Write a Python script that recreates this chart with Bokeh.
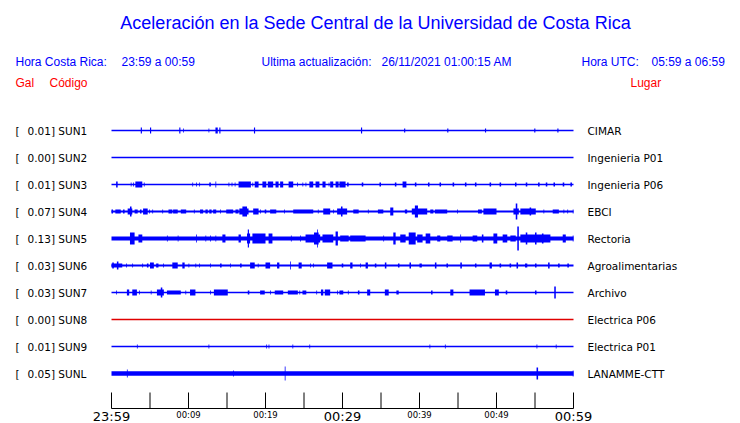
from bokeh.plotting import figure
from bokeh.models import Range1d
from bokeh.core.properties import value
from bokeh.embed import file_html
from bokeh.resources import INLINE

# ---------------- data ----------------
STATIONS = ["SUN1", "SUN2", "SUN3", "SUN4", "SUN5", "SUN6", "SUN7", "SUN8", "SUN9", "SUNL"]
PEAK_GAL = [0.01, 0.00, 0.01, 0.07, 0.13, 0.03, 0.03, 0.00, 0.01, 0.05]
PLACES = ["CIMAR", "Ingenieria P01", "Ingenieria P06", "EBCI", "Rectoria",
          "Agroalimentarias", "Archivo", "Electrica P06", "Electrica P01", "LANAMME-CTT"]

TICK_MINUTES = [0, 5, 10, 15, 20, 25, 30, 35, 40, 45, 50, 55, 60]
LABEL_MINUTES = [0, 10, 20, 30, 40, 50, 60]
TICK_LABELS = ["23:59", "00:09", "00:19", "00:29", "00:39", "00:49", "00:59"]
MAJOR_LABEL = [True, False, False, True, False, False, True]

TITLE = "Aceleración en la Sede Central de la Universidad de Costa Rica"
HEADER_LABELS = ["Hora Costa Rica:", "Ultima actualización:", "Hora UTC:"]
HEADER_VALUES = ["23:59 a 00:59", "26/11/2021 01:00:15 AM", "05:59 a 06:59"]
COLUMN_HEADS = ["Gal", "Código", "Lugar"]

# bursts per station: [start minute, end minute, half amplitude]
BURSTS_SUN1 = [[3.8, 3.95, 3], [5.0, 5.15, 3], [8.8, 8.95, 3], [9.3, 9.4, 2], [12.6, 12.7, 2],
               [13.5, 13.8, 3], [14.0, 14.15, 3], [18.5, 18.65, 3], [32.4, 32.55, 3],
               [38.0, 38.15, 2], [43.6, 43.75, 2], [48.5, 48.65, 2], [54.9, 55.05, 2],
               [57.9, 58.05, 2]]
BURSTS_SUN2 = []
BURSTS_SUN3 = [[0.6, 0.8, 3], [2.5, 2.6, 2], [2.8, 2.9, 2], [3.1, 4.0, 3], [4.2, 4.3, 2],
               [10.5, 10.6, 2], [11.0, 11.1, 2], [11.4, 11.5, 2], [12.7, 12.9, 2], [13.5, 13.6, 3],
               [15.2, 15.3, 2], [15.6, 15.7, 2], [16.0, 16.1, 2], [16.5, 18.1, 3], [18.3, 18.4, 2],
               [18.6, 19.1, 3], [19.6, 20.1, 3], [20.3, 21.0, 3], [21.3, 21.7, 3], [21.9, 22.3, 3],
               [23.0, 23.6, 3], [24.1, 24.2, 2], [24.8, 24.9, 2], [25.2, 25.3, 2], [25.7, 26.2, 3],
               [26.5, 27.0, 3], [27.4, 27.8, 3], [28.2, 28.3, 2], [28.4, 28.8, 3], [29.1, 29.5, 3],
               [29.6, 30.4, 3], [30.6, 30.8, 2], [32.5, 32.7, 2], [34.8, 35.0, 2], [36.8, 37.0, 2],
               [37.8, 38.3, 3], [39.4, 39.6, 2], [41.1, 41.3, 2], [42.6, 42.8, 2], [44.3, 44.5, 2],
               [45.9, 46.1, 2], [47.2, 47.4, 2], [49.1, 49.3, 2], [50.4, 50.6, 2], [52.4, 52.6, 2],
               [53.8, 54.0, 2], [55.4, 55.6, 2], [56.4, 56.6, 2], [57.4, 57.6, 2], [58.6, 58.8, 2],
               [59.6, 59.8, 2]]
BURSTS_SUN4 = [[0.0, 0.2, 2], [0.5, 1.2, 2], [1.5, 1.7, 2], [2.1, 2.7, 3], [2.4, 2.6, 5],
               [3.0, 3.4, 2], [3.7, 3.9, 2], [4.1, 4.7, 3], [4.9, 5.0, 2], [5.3, 5.4, 2],
               [6.6, 6.7, 2], [7.4, 7.9, 2], [8.0, 8.6, 2], [9.0, 9.7, 2], [10.7, 10.8, 2],
               [11.5, 11.9, 2], [12.2, 12.5, 2], [12.7, 13.0, 2], [13.2, 13.6, 2], [14.1, 14.2, 2],
               [14.9, 15.8, 2], [16.1, 16.5, 2], [16.6, 17.8, 3], [17.0, 17.6, 5], [18.4, 19.1, 3],
               [19.3, 19.4, 2], [19.9, 20.1, 2], [20.6, 21.4, 2], [22.4, 22.5, 2], [23.6, 26.2, 2],
               [26.8, 26.9, 2], [27.5, 28.4, 3], [28.8, 28.9, 2], [29.3, 30.6, 3], [29.8, 30.0, 5],
               [31.4, 32.1, 2], [33.3, 33.4, 2], [34.6, 35.3, 2], [36.2, 36.6, 4], [38.1, 38.4, 2],
               [39.0, 41.0, 3], [39.4, 39.8, 6], [41.4, 41.8, 2], [42.0, 43.6, 2], [44.9, 45.0, 2],
               [47.6, 48.1, 2], [48.3, 50.0, 3], [52.2, 52.9, 3], [52.5, 52.7, 8], [53.1, 55.1, 3],
               [54.3, 54.5, 4], [56.1, 56.2, 2], [57.3, 58.1, 2], [58.7, 58.8, 2], [59.2, 59.3, 2],
               [59.9, 60.0, 2]]
BURSTS_SUN5 = [[2.4, 3.0, 6], [3.5, 4.0, 4], [7.2, 7.3, 3], [8.6, 8.7, 3], [11.0, 11.1, 4],
               [12.2, 12.3, 3], [12.8, 12.9, 3], [13.5, 13.6, 3], [14.4, 14.8, 4], [16.5, 16.8, 4],
               [17.6, 18.0, 5], [17.7, 17.85, 9], [18.3, 20.0, 5], [20.4, 20.9, 5], [23.3, 23.4, 3],
               [24.5, 24.6, 3], [25.2, 27.1, 4], [26.3, 26.9, 6], [26.7, 26.8, 9], [27.4, 28.8, 4],
               [29.1, 29.4, 7], [29.7, 30.8, 3], [31.0, 33.0, 3], [35.3, 35.4, 3], [36.6, 36.9, 6],
               [37.5, 38.2, 4], [38.6, 39.5, 6], [39.7, 40.4, 4], [40.8, 41.4, 5], [42.3, 42.7, 3],
               [43.6, 44.3, 3], [45.3, 45.4, 4], [46.9, 47.5, 3], [48.1, 48.3, 4], [49.6, 50.1, 5],
               [50.8, 51.4, 4], [51.8, 52.5, 3], [52.7, 52.9, 12], [53.1, 57.0, 4], [53.8, 54.0, 6],
               [55.0, 55.2, 6], [55.9, 56.1, 5], [58.6, 59.0, 4], [59.9, 60.0, 3]]
BURSTS_SUN6 = [[0.0, 1.4, 2], [0.1, 0.3, 3], [0.7, 0.9, 4], [1.9, 2.0, 2], [2.7, 2.8, 2],
               [4.0, 4.1, 2], [4.6, 4.8, 2], [5.0, 5.5, 3], [5.8, 6.1, 2], [6.7, 6.8, 2],
               [7.9, 8.6, 3], [9.2, 9.5, 3], [10.0, 10.1, 2], [10.9, 11.0, 2], [11.4, 11.5, 2],
               [12.8, 12.9, 2], [14.1, 14.3, 2], [15.4, 15.5, 2], [16.7, 16.9, 2], [18.0, 18.6, 3],
               [19.0, 19.1, 2], [20.0, 20.6, 3], [21.5, 21.8, 3], [23.2, 23.3, 4], [24.3, 24.7, 3],
               [25.8, 25.9, 2], [26.2, 26.3, 2], [28.0, 28.7, 3], [29.9, 30.1, 2], [31.0, 31.3, 3],
               [32.3, 32.4, 2], [33.0, 33.3, 3], [34.2, 34.4, 2], [35.5, 35.7, 3], [37.2, 37.4, 2],
               [38.7, 38.9, 3], [40.0, 40.3, 2], [42.0, 42.2, 3], [43.5, 43.7, 2], [45.3, 45.5, 3],
               [47.2, 47.4, 2], [49.1, 49.4, 3], [50.4, 50.6, 2], [51.7, 51.9, 2], [52.6, 52.8, 3],
               [53.7, 54.0, 2], [55.0, 55.2, 2], [56.7, 56.9, 3], [58.0, 58.2, 2], [59.2, 59.4, 2]]
BURSTS_SUN7 = [[0.6, 0.7, 2], [2.0, 2.3, 3], [2.7, 3.3, 3], [3.6, 3.7, 2], [5.1, 5.2, 2],
               [5.9, 6.8, 3], [6.4, 6.6, 5], [7.2, 9.0, 2], [9.6, 9.7, 2], [10.2, 10.9, 3],
               [12.8, 12.9, 2], [13.3, 15.1, 3], [17.7, 17.9, 2], [19.3, 19.9, 2], [20.6, 20.7, 2],
               [21.2, 22.3, 2], [22.9, 24.2, 2], [24.4, 24.5, 2], [24.8, 25.3, 2], [26.6, 26.7, 2],
               [27.2, 27.5, 3], [27.7, 28.4, 3], [29.3, 29.4, 2], [29.6, 30.1, 2], [30.7, 30.8, 2],
               [32.0, 32.2, 2], [33.2, 33.6, 3], [35.5, 36.0, 3], [37.0, 37.3, 2], [41.5, 41.7, 2],
               [44.0, 44.4, 3], [46.5, 48.5, 3], [49.8, 50.3, 3], [51.2, 51.4, 2], [55.0, 55.2, 2],
               [57.5, 57.7, 6]]
BURSTS_SUN8 = []
BURSTS_SUN9 = [[3.3, 3.4, 2], [12.6, 12.7, 2], [20.1, 20.2, 2], [20.4, 20.5, 2], [23.5, 23.6, 2],
               [25.7, 25.8, 2], [41.3, 41.4, 2], [43.3, 43.4, 2], [55.2, 55.3, 2], [57.7, 57.8, 2]]
BURSTS_SUNL = [[2.0, 2.1, 4], [15.8, 15.9, 3], [22.5, 22.6, 7], [55.2, 55.4, 6], [59.9, 60.0, 3]]

BURSTS = [BURSTS_SUN1, BURSTS_SUN2, BURSTS_SUN3, BURSTS_SUN4, BURSTS_SUN5,
          BURSTS_SUN6, BURSTS_SUN7, BURSTS_SUN8, BURSTS_SUN9, BURSTS_SUNL]

# ---------------- styles ----------------
BLUE = "#0000ff"
RED = "#ff0000"
TRACE_COLORS = [BLUE] * 7 + ["#e00000"] + [BLUE] * 2
TRACE_WIDTHS = [1.5, 1.5, 1.5, 2, 4, 2, 1.5, 1.5, 1.5, 4.5]

W, H = 740, 423
PX_PER_MIN = 7.7
X0_PAGE = 111.0
ROW0_PAGE = 130.0
ROW_STEP = 27.0


def mx(px):
    return (px - X0_PAGE) / PX_PER_MIN


def ry(py):
    return (py - ROW0_PAGE) / ROW_STEP


p = figure(width=W, height=H, output_backend="svg", toolbar_location=None,
           x_range=Range1d(mx(0), mx(W)), y_range=Range1d(ry(H), ry(0)),
           x_axis_location=None, y_axis_location=None, min_border=0,
           background_fill_color="white", border_fill_color="white")
p.outline_line_color = None
p.xgrid.visible = False
p.ygrid.visible = False

rows = list(range(len(STATIONS)))

# baselines
p.segment(x0=[0] * len(rows), x1=[60] * len(rows), y0=rows, y1=rows,
          line_color=TRACE_COLORS, line_width=TRACE_WIDTHS)

# bursts
L, R, T, B, C = [], [], [], [], []
for i, bl in enumerate(BURSTS):
    for s, e, a in bl:
        L.append(s)
        R.append(e)
        T.append(i - a / ROW_STEP)
        B.append(i + a / ROW_STEP)
        C.append(TRACE_COLORS[i])
p.quad(left=L, right=R, top=T, bottom=B, fill_color=C, line_color=None)

# left labels
p.text(x=[mx(15)] * len(rows), y=rows, text=["["] * len(rows),
       text_font=value("DejaVu Sans"), text_font_size="10.5px", text_color="black",
       text_align="left", text_baseline="middle")
p.text(x=[mx(27)] * len(rows), y=rows,
       text=[f"{v:.2f}] {s}" for v, s in zip(PEAK_GAL, STATIONS)],
       text_font=value("DejaVu Sans"), text_font_size="10.5px", text_color="black",
       text_align="left", text_baseline="middle")
# right labels
p.text(x=[mx(587)] * len(rows), y=rows, text=PLACES,
       text_font=value("DejaVu Sans"), text_font_size="10.5px", text_color="black",
       text_align="left", text_baseline="middle")

# title and header
p.text(x=[mx(375)], y=[ry(22)], text=[TITLE], text_font=value("Liberation Sans"),
       text_font_size="18px", text_color=BLUE, text_align="center", text_baseline="middle")
p.text(x=[mx(15), mx(261), mx(581)], y=[ry(61)] * 3, text=HEADER_LABELS,
       text_font=value("Liberation Sans"), text_font_size="12px", text_color=BLUE,
       text_align="left", text_baseline="middle")
p.text(x=[mx(121), mx(381), mx(651)], y=[ry(61)] * 3, text=HEADER_VALUES,
       text_font=value("Liberation Sans"), text_font_size="12px", text_color=BLUE,
       text_align="left", text_baseline="middle")
p.text(x=[mx(15), mx(49), mx(630)], y=[ry(82)] * 3, text=COLUMN_HEADS,
       text_font=value("Liberation Sans"), text_font_size="12px", text_color=RED,
       text_align="left", text_baseline="middle")

# time axis
axis_y = ry(408)
p.segment(x0=[0], x1=[60], y0=[axis_y], y1=[axis_y], line_color="black", line_width=1)
p.segment(x0=TICK_MINUTES, x1=TICK_MINUTES, y0=[axis_y] * len(TICK_MINUTES),
          y1=[ry(392)] * len(TICK_MINUTES), line_color="black", line_width=1)
big_x = [m for m, b in zip(LABEL_MINUTES, MAJOR_LABEL) if b]
big_t = [t for t, b in zip(TICK_LABELS, MAJOR_LABEL) if b]
small_x = [m for m, b in zip(LABEL_MINUTES, MAJOR_LABEL) if not b]
small_t = [t for t, b in zip(TICK_LABELS, MAJOR_LABEL) if not b]
p.text(x=big_x, y=[ry(416)] * len(big_x), text=big_t, text_font=value("DejaVu Sans"),
       text_font_size="13px", text_color="black", text_align="center", text_baseline="middle")
p.text(x=small_x, y=[ry(414)] * len(small_x), text=small_t, text_font=value("DejaVu Sans"),
       text_font_size="8.5px", text_color="black", text_align="center", text_baseline="middle")

open("out.html", "w").write(file_html(p, INLINE))
